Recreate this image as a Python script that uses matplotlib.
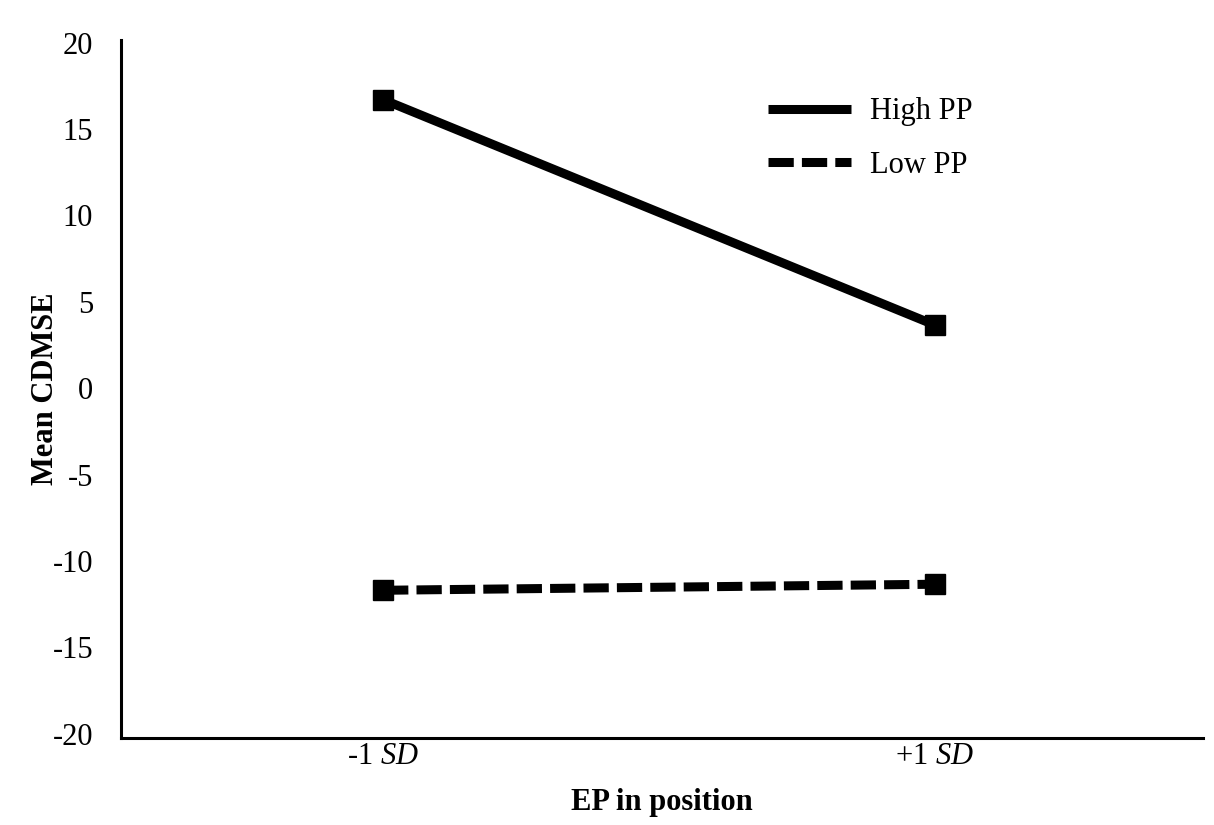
import matplotlib
matplotlib.use("Agg")
import matplotlib.pyplot as plt
from matplotlib.lines import Line2D

plt.rcParams['font.family'] = ['Liberation Serif', 'DejaVu Serif']
plt.rcParams['mathtext.fontset'] = 'custom'
plt.rcParams['mathtext.rm'] = 'Liberation Serif'
plt.rcParams['mathtext.it'] = 'Liberation Serif:italic'

# Data
categories = [r'-1 $\mathit{SD}$', r'+1 $\mathit{SD}$']
high_pp = [16.7, 3.65]
low_pp = [-11.7, -11.35]
y_ticks = [-20, -15, -10, -5, 0, 5, 10, 15, 20]

fig = plt.figure(figsize=(12.14, 8.25), dpi=100)
ax = fig.add_axes([121 / 1214, 1 - 738 / 825, (1203 - 121) / 1214, (738 - 40) / 825])

x = range(len(categories))
ax.plot(x, high_pp, color='black', linewidth=6.5, marker='s', markersize=15,
        solid_capstyle='butt')
ax.plot(x, low_pp, color='black', linewidth=6.5, marker='s', markersize=15,
        linestyle=(0, (2.8, 0.9)), dash_capstyle='butt')

ax.set_xlim(-0.475, 1.486)
ax.set_ylim(-20.25, 20.15)
ax.set_xticks(list(x))
ax.set_xticklabels(categories, fontsize=22)
ax.set_yticks(y_ticks)
ax.set_yticklabels([str(v) for v in y_ticks], fontsize=22)
ax.tick_params(length=0)
ax.tick_params(axis='x', pad=3)
ax.tick_params(axis='y', pad=20)

for side in ['top', 'right']:
    ax.spines[side].set_visible(False)
for side in ['left', 'bottom']:
    ax.spines[side].set_linewidth(2.2)

ax.set_ylabel('Mean CDMSE', fontsize=22, fontweight='bold', labelpad=-5)
ax.set_xlabel('EP in position', fontsize=22, fontweight='bold', labelpad=12)

handles = [
    Line2D([], [], color='black', linewidth=6.5, solid_capstyle='butt'),
    Line2D([], [], color='black', linewidth=6.5, linestyle=(0, (2.8, 0.9)), dash_capstyle='butt'),
]
ax.legend(handles, ['High PP', 'Low PP'], loc='upper left', bbox_to_anchor=(0.598, 0.918),
          frameon=False, fontsize=22, handlelength=2.7, handletextpad=0.65,
          borderpad=0, borderaxespad=0, labelspacing=0.8)

fig.savefig('out.png', dpi=100)
